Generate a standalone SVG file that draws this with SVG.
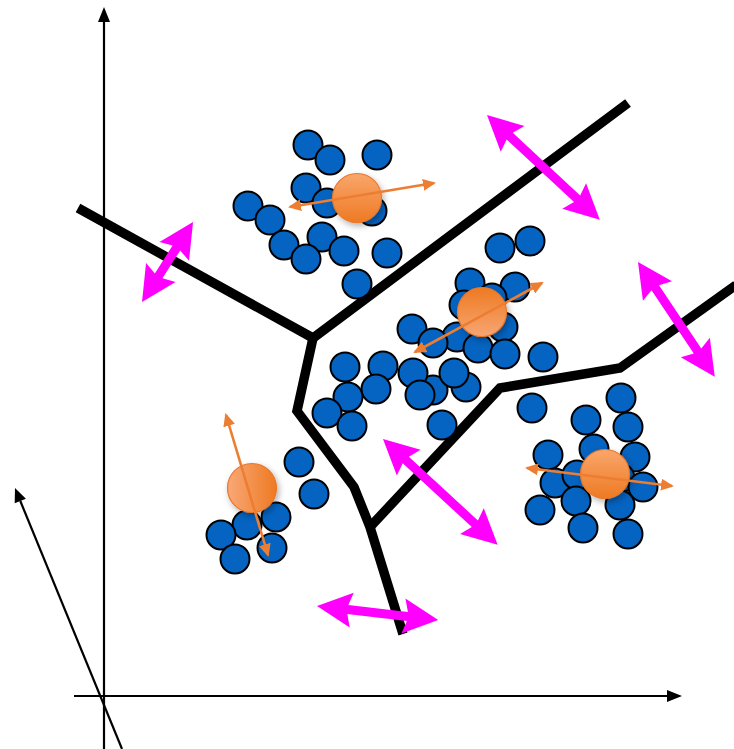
<svg xmlns="http://www.w3.org/2000/svg" width="734" height="749" viewBox="0 0 734 749">
<style>
.ax{stroke:#000;stroke-width:2.2;fill:none}
.bd{stroke:#000;stroke-width:9.5;fill:none;stroke-linejoin:miter;stroke-linecap:butt}
.b{fill:#0563C1;stroke:#000;stroke-width:2}
.o{stroke:#E9782A;stroke-width:1.2;filter:url(#sh)}
.oa{stroke:#ED7D31;stroke-width:2.6;fill:none;marker-start:url(#oh);marker-end:url(#oh)}
.m{fill:#FF00FF}
</style>
<defs>
<filter id="sh" x="-50%" y="-50%" width="200%" height="200%">
<feDropShadow dx="2" dy="3" stdDeviation="3" flood-color="#000" flood-opacity="0.3"/>
</filter>
<linearGradient id="g1" x1="0" y1="0" x2="0" y2="1"><stop offset="0" stop-color="#F9A66C"/><stop offset="1" stop-color="#EE7A22"/></linearGradient>
<linearGradient id="g2" x1="0" y1="0" x2="0" y2="1"><stop offset="0" stop-color="#EE7A22"/><stop offset="1" stop-color="#F7A673"/></linearGradient>
<linearGradient id="g3" x1="0" y1="0" x2="1" y2="0"><stop offset="0" stop-color="#F9A878"/><stop offset="1" stop-color="#EE7A22"/></linearGradient>
<marker id="oh" viewBox="0 0 13 12" refX="11" refY="6" markerWidth="13" markerHeight="12" markerUnits="userSpaceOnUse" orient="auto-start-reverse">
<path d="M0,0 L13,6 L0,12 Z" fill="#ED7D31"/>
</marker>
</defs>

<g id="axes">
<line class="ax" x1="104" y1="749" x2="104" y2="20"/>
<polygon points="104,7 98,22 110,22" fill="#000"/>
<line class="ax" x1="74" y1="696" x2="668" y2="696"/>
<polygon points="682,696 667,690 667,702" fill="#000"/>
<line class="ax" x1="122" y1="749" x2="20.3" y2="501"/>
<polygon points="15,488 25.9,498.7 14.7,503.3" fill="#000"/>
</g>

<g id="boundaries">
<path class="bd" d="M78,208 L313,338 L628,103"/>
<path class="bd" d="M313,338 L297,411 L354,487 L370,527 L403,634"/>
<path class="bd" d="M370,527 L500,388 L620,368 L736,285"/>
</g>

<g id="cluster1">
<circle class="b" cx="308" cy="145" r="14.5"/>
<circle class="b" cx="330" cy="160" r="14.5"/>
<circle class="b" cx="377" cy="155" r="14.5"/>
<circle class="b" cx="306" cy="188" r="14.5"/>
<circle class="b" cx="372" cy="211" r="14.5"/>
<circle class="b" cx="327" cy="203" r="14.5"/>
<circle class="b" cx="248" cy="206" r="14.5"/>
<circle class="b" cx="270" cy="220" r="14.5"/>
<circle class="b" cx="284" cy="245" r="14.5"/>
<circle class="b" cx="322" cy="237" r="14.5"/>
<circle class="b" cx="306" cy="259" r="14.5"/>
<circle class="b" cx="344" cy="251" r="14.5"/>
<circle class="b" cx="387" cy="253" r="14.5"/>
<circle class="b" cx="357" cy="284" r="14.5"/>
</g>

<g id="cluster2">
<circle class="b" cx="500" cy="248" r="14.5"/>
<circle class="b" cx="530" cy="241" r="14.5"/>
<circle class="b" cx="470" cy="283" r="14.5"/>
<circle class="b" cx="515" cy="287" r="14.5"/>
<circle class="b" cx="492" cy="298" r="14.5"/>
<circle class="b" cx="464" cy="305" r="14.5"/>
<circle class="b" cx="503" cy="327" r="14.5"/>
<circle class="b" cx="412" cy="329" r="14.5"/>
<circle class="b" cx="457" cy="337" r="14.5"/>
<circle class="b" cx="433" cy="343" r="14.5"/>
<circle class="b" cx="478" cy="348" r="14.5"/>
<circle class="b" cx="505" cy="354" r="14.5"/>
<circle class="b" cx="543" cy="357" r="14.5"/>
<circle class="b" cx="345" cy="367" r="14.5"/>
<circle class="b" cx="383" cy="366" r="14.5"/>
<circle class="b" cx="376" cy="389" r="14.5"/>
<circle class="b" cx="348" cy="397" r="14.5"/>
<circle class="b" cx="327" cy="413" r="14.5"/>
<circle class="b" cx="352" cy="426" r="14.5"/>
<circle class="b" cx="433" cy="390" r="14.5"/>
<circle class="b" cx="413" cy="373" r="14.5"/>
<circle class="b" cx="466" cy="387" r="14.5"/>
<circle class="b" cx="454" cy="373" r="14.5"/>
<circle class="b" cx="420" cy="395" r="14.5"/>
<circle class="b" cx="442" cy="425" r="14.5"/>
<circle class="b" cx="532" cy="408" r="14.5"/>
</g>

<g id="cluster3">
<circle class="b" cx="621" cy="398" r="14.5"/>
<circle class="b" cx="586" cy="420" r="14.5"/>
<circle class="b" cx="628" cy="427" r="14.5"/>
<circle class="b" cx="594" cy="449" r="14.5"/>
<circle class="b" cx="548" cy="455" r="14.5"/>
<circle class="b" cx="635" cy="457" r="14.5"/>
<circle class="b" cx="555" cy="483" r="14.5"/>
<circle class="b" cx="577" cy="475" r="14.5"/>
<circle class="b" cx="620" cy="478" r="14.5"/>
<circle class="b" cx="643" cy="487" r="14.5"/>
<circle class="b" cx="576" cy="501" r="14.5"/>
<circle class="b" cx="620" cy="505" r="14.5"/>
<circle class="b" cx="540" cy="510" r="14.5"/>
<circle class="b" cx="583" cy="528" r="14.5"/>
<circle class="b" cx="628" cy="534" r="14.5"/>
</g>

<g id="cluster4">
<circle class="b" cx="299" cy="462" r="14.5"/>
<circle class="b" cx="314" cy="494" r="14.5"/>
<circle class="b" cx="276" cy="517" r="14.5"/>
<circle class="b" cx="247" cy="525" r="14.5"/>
<circle class="b" cx="221" cy="535" r="14.5"/>
<circle class="b" cx="272" cy="548" r="14.5"/>
<circle class="b" cx="235" cy="559" r="14.5"/>
</g>

<g id="centroid1">
<circle class="o" cx="357" cy="198" r="24.5" fill="url(#g1)"/>
<line class="oa" x1="290" y1="207" x2="434" y2="183"/>
</g>
<g id="centroid2">
<circle class="o" cx="482" cy="312" r="24.5" fill="url(#g2)"/>
<line class="oa" x1="415" y1="352" x2="542" y2="283"/>
</g>
<g id="centroid3">
<circle class="o" cx="605" cy="474" r="24.5" fill="url(#g1)"/>
<line class="oa" x1="527" y1="468" x2="672" y2="486"/>
</g>
<g id="centroid4">
<circle class="o" cx="252" cy="488" r="24.5" fill="url(#g3)"/>
<line class="oa" x1="226" y1="415" x2="268" y2="555"/>
</g>

<g id="shifts">
<path class="m" transform="translate(142,302) rotate(-57.5)" d="M0,0 L35,-17.5 L31,-4.5 L64,-4.5 L60,-17.5 L95,0 L60,17.5 L64,4.5 L31,4.5 L35,17.5 Z"/>
<path class="m" transform="translate(487,115) rotate(42.9)" d="M0,0 L35,-17.5 L31,-4.5 L123,-4.5 L119,-17.5 L154,0 L119,17.5 L123,4.5 L31,4.5 L35,17.5 Z"/>
<path class="m" transform="translate(638,262) rotate(56.2)" d="M0,0 L35,-17.5 L31,-4.5 L107,-4.5 L103,-17.5 L138,0 L103,17.5 L107,4.5 L31,4.5 L35,17.5 Z"/>
<path class="m" transform="translate(383,439) rotate(42.7)" d="M0,0 L35,-17.5 L31,-4.5 L125,-4.5 L121,-17.5 L156,0 L121,17.5 L125,4.5 L31,4.5 L35,17.5 Z"/>
<path class="m" transform="translate(317,606) rotate(6.6)" d="M0,0 L35,-17.5 L31,-4.5 L91,-4.5 L87,-17.5 L122,0 L87,17.5 L91,4.5 L31,4.5 L35,17.5 Z"/>
</g>
</svg>
